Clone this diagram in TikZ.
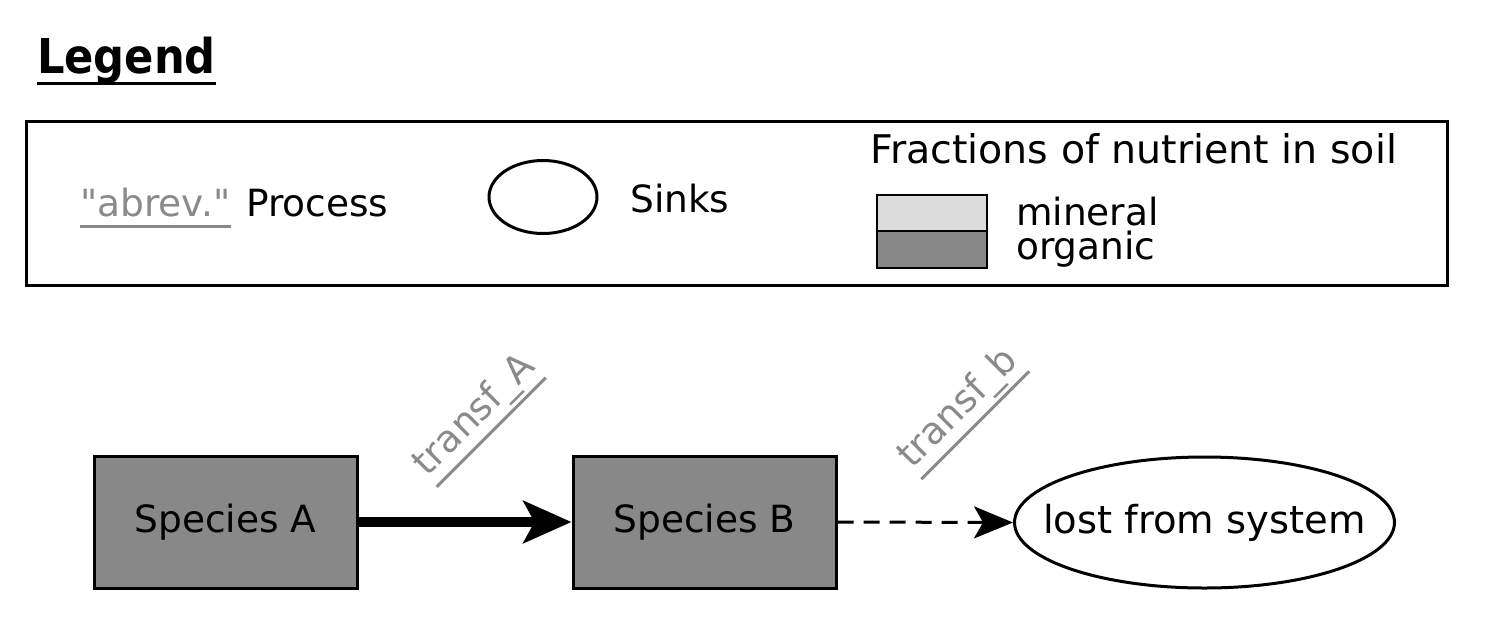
\documentclass[tikz,border=0pt]{standalone}
\usepackage{fontspec}
\setmainfont{DejaVu Sans}
\newfontfamily\legendfont{DejaVu Sans Condensed}
\newfontfamily\procfont{DejaVu Sans}
\usetikzlibrary{arrows.meta,shapes.geometric,calc}
\definecolor{orgfill}{HTML}{888888}
\definecolor{minfill}{HTML}{DCDCDC}
\definecolor{procgray}{HTML}{8A8A8A}
\tikzset{
  txt/.style={inner sep=0pt, font=\fontsize{37.5}{41}\selectfont},
  proc/.style={inner sep=0pt, font=\procfont\fontsize{37.5}{41}\selectfont, text=procgray},
  ul/.style={draw=procgray, line width=3pt},
  species/.style={draw=black, fill=orgfill, line width=3pt, minimum width=263pt, minimum height=132pt, inner sep=0pt, font=\fontsize{37.5}{41}\selectfont},
  sink/.style={ellipse, draw=black, line width=3pt, inner sep=0pt},
}
\begin{document}
\begin{tikzpicture}[x=1pt,y=-1pt]
\useasboundingbox (0,0) rectangle (1502,638);
% Legend title
\node[inner sep=0pt, anchor=base west, font=\legendfont\bfseries\fontsize{48}{52}\selectfont] (legend) at (37,73) {Legend};
\draw[line width=3pt] ($(legend.base west)!10pt!-90:(legend.base east)$) -- ($(legend.base east)!10pt!90:(legend.base west)$);
% Legend box
\draw[line width=3pt] (26,121) rectangle (1447,285);
\node[proc, anchor=base west] (abrev) at (80,216) {"abrev."};
\draw[ul] ($(abrev.base west)!10pt!-90:(abrev.base east)$) -- ($(abrev.base east)!10pt!90:(abrev.base west)$);
\node[txt, anchor=base west] (process) at (246,216) {Process};
\node[sink, minimum width=108pt, minimum height=73pt] (sinkicon) at (543,197) {};
\node[txt, anchor=base west] (sinks) at (630,212) {Sinks};
\node[txt, anchor=base west, font=\fontsize{39.5}{43}\selectfont] (fractions) at (870,163) {Fractions of nutrient in soil};
\draw[line width=2.5pt, fill=minfill] (877,195) rectangle (987,231);
\draw[line width=2.5pt, fill=orgfill] (877,231) rectangle (987,268);
\node[txt, anchor=base west] (mineral) at (1016,225) {mineral};
\node[txt, anchor=base west] (organic) at (1016,259) {organic};
% Diagram
\node[species] (A) at (225.5,522) {Species A};
\node[species] (B) at (704.5,522) {Species B};
\node[sink, inner xsep=-27pt, inner ysep=0pt, minimum width=375pt, minimum height=131pt, font=\fontsize{38.5}{42}\selectfont] (lost) at (1204.5,522.5) {lost from system};
\draw[line width=10pt, -{Stealth[length=48pt, width=42pt, inset=11pt]}] (A.east) -- (B.west);
\draw[line width=3pt, dash pattern=on 16pt off 10pt, -{Stealth[length=39pt, width=32pt, inset=9pt]}] (B.east) -- (lost.west);
% process labels
\node[proc, rotate=45, anchor=base] (ta) at (482,423) {transf\_A};
\draw[ul] ($(ta.base west)!13pt!-90:(ta.base east)$) -- ($(ta.base east)!13pt!90:(ta.base west)$);
\node[proc, rotate=45, anchor=base] (tb) at (966,416) {transf\_b};
\draw[ul] ($(tb.base west)!13pt!-90:(tb.base east)$) -- ($(tb.base east)!13pt!90:(tb.base west)$);
\end{tikzpicture}
\end{document}
